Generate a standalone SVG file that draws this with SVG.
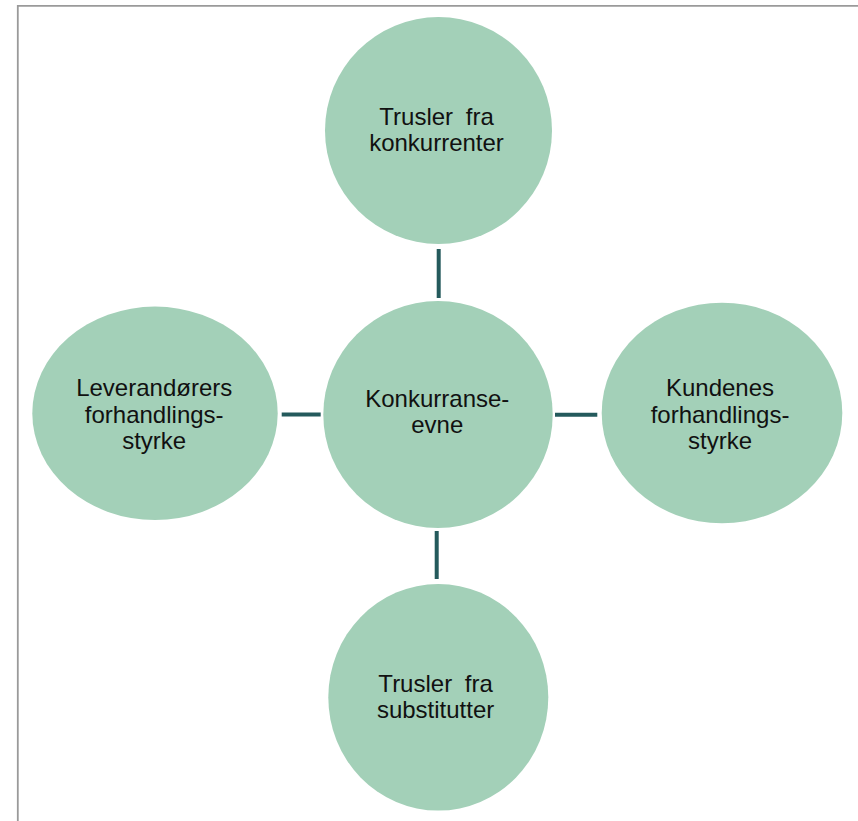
<svg xmlns="http://www.w3.org/2000/svg" width="858" height="821" viewBox="0 0 858 821">
<style>
.node{fill:#a3d0b8;}
.lbl{font-family:"Liberation Sans",Arial,sans-serif;font-size:24px;fill:#111;text-anchor:middle;}
.conn{stroke:#245a5c;stroke-width:4;fill:none;}
</style>
<rect width="858" height="821" fill="#ffffff"/>
<path d="M17.8,821 V5.8 H858" fill="none" stroke="#9a9a9a" stroke-width="1.8"/>
<g id="connectors">
<line class="conn" x1="438.7" y1="249" x2="438.7" y2="298"/>
<line class="conn" x1="436.7" y1="531" x2="436.7" y2="579"/>
<line class="conn" x1="281.7" y1="414.5" x2="320.7" y2="414.5"/>
<line class="conn" x1="555" y1="414.7" x2="597.3" y2="414.7"/>
</g>
<g id="node-top">
<ellipse class="node" cx="438.5" cy="130.5" rx="113.5" ry="113.5"/>
<text class="lbl" x="436.5" y="125" word-spacing="6">Trusler fra</text>
<text class="lbl" x="436.5" y="151">konkurrenter</text>
</g>
<g id="node-center">
<ellipse class="node" cx="438" cy="414.5" rx="114.7" ry="113.5"/>
<text class="lbl" x="437.3" y="406.7">Konkurranse-</text>
<text class="lbl" x="437.3" y="432.7">evne</text>
</g>
<g id="node-left">
<ellipse class="node" cx="155" cy="413.3" rx="122.7" ry="106.7"/>
<text class="lbl" x="154.2" y="396">Leverandørers</text>
<text class="lbl" x="154.2" y="422.6">forhandlings-</text>
<text class="lbl" x="154.2" y="449.2">styrke</text>
</g>
<g id="node-right">
<ellipse class="node" cx="722" cy="413" rx="120.3" ry="110.3"/>
<text class="lbl" x="720" y="396">Kundenes</text>
<text class="lbl" x="720" y="422.6">forhandlings-</text>
<text class="lbl" x="720" y="449.2">styrke</text>
</g>
<g id="node-bottom">
<ellipse class="node" cx="438.3" cy="697.3" rx="110" ry="113.3"/>
<text class="lbl" x="435.6" y="691.7" word-spacing="6">Trusler fra</text>
<text class="lbl" x="435.6" y="717.7">substitutter</text>
</g>
</svg>
